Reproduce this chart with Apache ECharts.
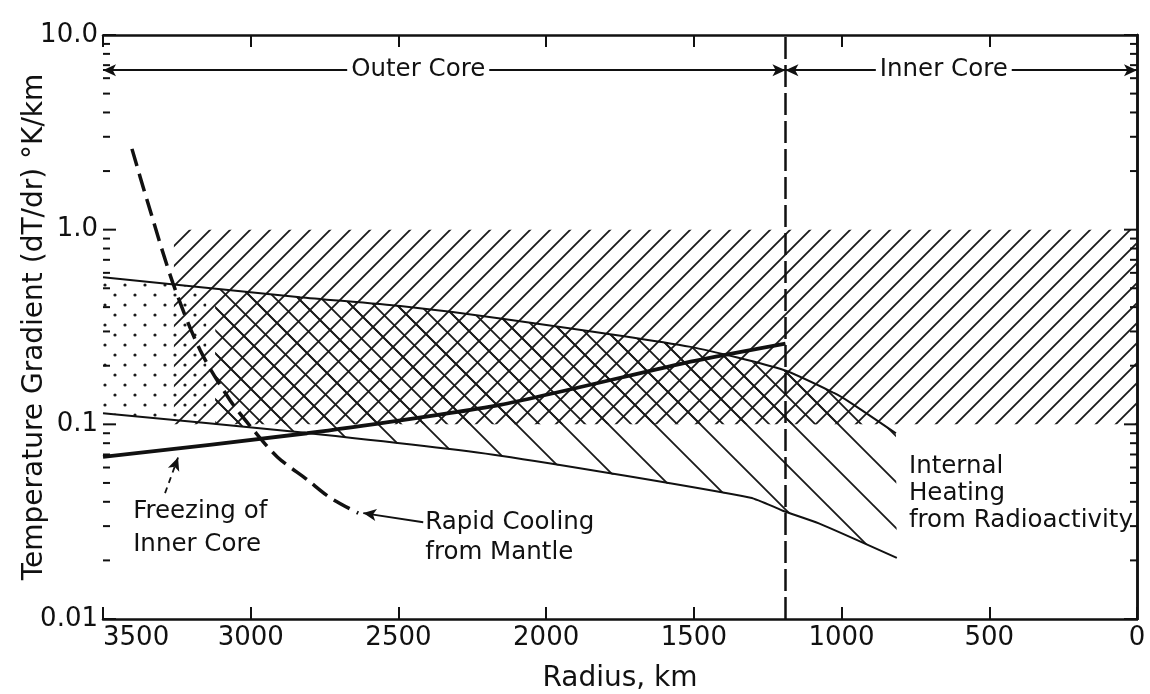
<!DOCTYPE html>
<html lang="en">
<head>
<meta charset="UTF-8">
<title>Core temperature gradient</title>
<script src="https://cdn.jsdelivr.net/npm/echarts@6/dist/echarts.min.js"></script>
<style>
    html, body { margin: 0; padding: 0; background: #fff; }
    #chart { width: 1150px; height: 694px; }
</style>
</head>
<body>
<div id="chart"></div>
<script>
// values: radius (km) / gradient (°K/km)
var upperKm  = [3500, 2833, 2494, 2155, 1511, 1196, 1026, 969, 816];
var upperVal = [0.57, 0.45, 0.405, 0.35, 0.25, 0.19, 0.145, 0.129, 0.090];
var lowerKm  = [3500, 2833, 2155, 1308, 1199, 1077, 813];
var lowerVal = [0.114, 0.091, 0.069, 0.042, 0.036, 0.031, 0.0206];
// freezing of inner core (thick solid)
var freezeKm  = [3500, 2809, 2155, 1511, 1190];
var freezeVal = [0.068, 0.090, 0.126, 0.21, 0.26];
// rapid cooling from mantle (thick dashed)
var coolKm  = [3402, 3351, 3263, 3171, 3070, 2992, 2910, 2809, 2731, 2636];
var coolVal = [2.6, 1.42, 0.53, 0.24, 0.133, 0.094, 0.068, 0.052, 0.042, 0.035];

var innerCoreKm = 1190;
var bandKm  = [3260, 0];     // hatched band, left / right
var bandVal = [1.0, 0.1];    // hatched band, top / bottom
var hatchStartKm = 3120;     // where the \\\ hatching begins
var dotEndKm = 3150;         // where the dotted part ends
var coreArrowVal = 6.6;

var yTickVals   = [0.01, 0.1, 1, 10];
var yTickLabels = ['0.01', '0.1', '1.0', '10.0'];
var yMinorVals  = [0.02, 0.03, 0.04, 0.05, 0.06, 0.07, 0.08, 0.09,
                   0.2, 0.3, 0.4, 0.5, 0.6, 0.7, 0.8, 0.9,
                   2, 3, 4, 5, 6, 7, 8, 9];

var FONT = 'DejaVu Sans';
var INK = '#111';

function pairs(a, b) {
    return a.map(function (x, i) { return [x, b[i]]; });
}

// hatch tiles
function hatch(pitch, dir, width) {
    var c = document.createElement('canvas');
    c.width = c.height = pitch;
    var g = c.getContext('2d');
    g.strokeStyle = '#1a1a1a';
    g.lineWidth = width;
    g.beginPath();
    if (dir === '/') {
        g.moveTo(-2, pitch + 2); g.lineTo(pitch + 2, -2);
        g.moveTo(-2, 2); g.lineTo(2, -2);
        g.moveTo(pitch - 2, pitch + 2); g.lineTo(pitch + 2, pitch - 2);
    } else {
        g.moveTo(-2, -2); g.lineTo(pitch + 2, pitch + 2);
        g.moveTo(pitch - 2, -2); g.lineTo(pitch + 2, 2);
        g.moveTo(-2, pitch - 2); g.lineTo(2, pitch + 2);
    }
    g.stroke();
    return { image: c, repeat: 'repeat' };
}
function dots(pitch, r) {
    var c = document.createElement('canvas');
    c.width = c.height = pitch;
    var g = c.getContext('2d');
    g.fillStyle = '#1a1a1a';
    [[pitch / 4, pitch / 4], [pitch * 3 / 4, pitch * 3 / 4]].forEach(function (p) {
        g.beginPath(); g.arc(p[0], p[1], r, 0, Math.PI * 2); g.fill();
    });
    return { image: c, repeat: 'repeat' };
}
var fwdHatch = hatch(20, '/', 1.8);
var backDense = hatch(23, '\\', 1.8);
var backSparse = hatch(46, '\\', 1.8);
var dotFill = dots(20, 1.6);

// clip polygon against a half plane x or y (pixel space)
function clip(pts, axis, limit, keepLess) {
    var out = [];
    for (var i = 0; i < pts.length; i++) {
        var a = pts[i], b = pts[(i + 1) % pts.length];
        var ina = keepLess ? a[axis] <= limit : a[axis] >= limit;
        var inb = keepLess ? b[axis] <= limit : b[axis] >= limit;
        if (ina) out.push(a);
        if (ina !== inb) {
            var t = (limit - a[axis]) / (b[axis] - a[axis]);
            out.push([a[0] + t * (b[0] - a[0]), a[1] + t * (b[1] - a[1])]);
        }
    }
    return out;
}

function renderRegions(params, api) {
    var up = upperKm.map(function (k, i) { return api.coord([k, upperVal[i]]); });
    var lo = lowerKm.map(function (k, i) { return api.coord([k, lowerVal[i]]); }).reverse();
    var region = up.concat(lo);
    var hatchPoly = clip(region, 0, api.coord([hatchStartKm, 1])[0], false);
    var densePoly = clip(hatchPoly, 1, api.coord([0, bandVal[1]])[1], true);
    var dotPoly = clip(region, 0, api.coord([dotEndKm, 1])[0], true);
    var b0 = api.coord([bandKm[0], bandVal[0]]);
    var b1 = api.coord([bandKm[1], bandVal[1]]);
    return {
        type: 'group',
        children: [
            { type: 'polygon', shape: { points: dotPoly }, style: { fill: dotFill } },
            { type: 'polygon', shape: { points: hatchPoly }, style: { fill: backSparse } },
            { type: 'polygon', shape: { points: densePoly }, style: { fill: backDense } },
            { type: 'rect', shape: { x: b0[0], y: b0[1], width: b1[0] - b0[0], height: b1[1] - b0[1] },
              style: { fill: fwdHatch } }
        ]
    };
}

// log ticks on both vertical frame lines, pointing inward
function renderLogTicks(params, api) {
    var kids = [];
    function tick(v, len) {
        var l = api.coord([3500, v]), r = api.coord([0, v]);
        kids.push({ type: 'line', shape: { x1: l[0], y1: l[1], x2: l[0] + len, y2: l[1] },
                    style: { stroke: INK, lineWidth: 2 } });
        kids.push({ type: 'line', shape: { x1: r[0], y1: r[1], x2: r[0] - len, y2: r[1] },
                    style: { stroke: INK, lineWidth: 2 } });
    }
    yMinorVals.forEach(function (v) { tick(v, 7); });
    yTickVals.forEach(function (v) { tick(v, 13); });
    return { type: 'group', children: kids };
}

// text notes, anchored in data coordinates
var notes = [
    { at: [3398, 0.0292], text: 'Freezing of\nInner Core', align: 'left', lh: 33 },
    { at: [2409, 0.0262], text: 'Rapid Cooling\nfrom Mantle', align: 'left', lh: 30 },
    { at: [772, 0.0439], text: 'Internal\nHeating\nfrom Radioactivity', align: 'left', lh: 27 },
    { at: [2433, coreArrowVal], text: 'Outer Core', align: 'center', lh: 26, bg: true },
    { at: [654, coreArrowVal], text: 'Inner Core', align: 'center', lh: 26, bg: true }
];

function renderNotes(params, api) {
    return {
        type: 'group',
        children: notes.map(function (n) {
            var p = api.coord(n.at);
            return {
                type: 'text', x: p[0], y: p[1],
                style: {
                    text: n.text, fill: INK, font: '24.5px "' + FONT + '"',
                    align: n.align, verticalAlign: 'middle', lineHeight: n.lh,
                    backgroundColor: n.bg ? '#fff' : null, padding: n.bg ? [0, 4] : 0
                }
            };
        })
    };
}

var chart = echarts.init(document.getElementById('chart'));
chart.setOption({
    animation: false,
    backgroundColor: '#fff',
    textStyle: { fontFamily: FONT, color: INK },
    grid: { left: 103, right: 13, top: 35, bottom: 75, containLabel: false, outerBoundsMode: 'none' },
    xAxis: [{
        type: 'value', min: 0, max: 3500, interval: 500, inverse: true,
        name: 'Radius, km', nameLocation: 'middle', nameGap: 46,
        nameTextStyle: { fontSize: 28, color: INK, fontFamily: FONT },
        axisLine: { lineStyle: { color: INK, width: 2.5 } },
        axisTick: { inside: true, length: 12, lineStyle: { color: INK, width: 2 } },
        axisLabel: {
            fontSize: 26, color: INK, fontFamily: FONT, margin: 6, alignMaxLabel: 'left',
            formatter: function (v) { return String(v); }
        },
        splitLine: { show: false }
    }, {
        type: 'value', position: 'top', min: 0, max: 3500, interval: 500, inverse: true,
        axisLine: { lineStyle: { color: INK, width: 2.5 } },
        axisTick: { inside: true, length: 12, lineStyle: { color: INK, width: 2 } },
        axisLabel: { show: false },
        splitLine: { show: false }
    }],
    yAxis: [{
        type: 'log', logBase: 10, min: 0.01, max: 10,
        name: 'Temperature Gradient (dT/dr) °K/km', nameLocation: 'middle', nameGap: 54,
        nameMoveOverlap: false,
        nameTextStyle: { fontSize: 28, color: INK, fontFamily: FONT },
        axisLine: { lineStyle: { color: INK, width: 2.5 } },
        axisTick: { show: false },
        axisLabel: {
            fontSize: 26, color: INK, fontFamily: FONT, margin: 5,
            formatter: function (v) {
                for (var i = 0; i < yTickVals.length; i++) {
                    if (Math.abs(Math.log10(v) - Math.log10(yTickVals[i])) < 1e-6) return yTickLabels[i];
                }
                return '';
            }
        },
        splitLine: { show: false }
    }, {
        type: 'log', logBase: 10, min: 0.01, max: 10, position: 'right',
        axisLine: { lineStyle: { color: INK, width: 2.5 } },
        axisTick: { show: false },
        axisLabel: { show: false },
        splitLine: { show: false }
    }],
    series: [{
        type: 'custom', name: 'regions', z: 1, silent: true,
        data: [[1000, 1]], renderItem: renderRegions
    }, {
        type: 'custom', name: 'log ticks', z: 4, silent: true,
        data: [[1000, 1]], renderItem: renderLogTicks
    }, {
        type: 'line', name: 'upper', z: 3, data: pairs(upperKm, upperVal),
        showSymbol: false, smooth: 0.2,
        lineStyle: { color: INK, width: 2 },
        markLine: {
            silent: true, symbol: ['none', 'arrow'], symbolSize: [9, 13],
            label: { show: false },
            lineStyle: { color: INK, width: 1.8, type: 'solid' },
            data: [
                [{ coord: [2416, 0.0314] }, { coord: [2619, 0.035] }],
                [{ coord: [3290, 0.0443], lineStyle: { type: [6, 5] } }, { coord: [3246, 0.0675] }]
            ]
        }
    }, {
        type: 'line', name: 'lower', z: 3, data: pairs(lowerKm, lowerVal),
        showSymbol: false, smooth: 0.2,
        lineStyle: { color: INK, width: 2 }
    }, {
        type: 'line', name: 'freezing', z: 3, data: pairs(freezeKm, freezeVal),
        showSymbol: false, smooth: 0.2,
        lineStyle: { color: INK, width: 3.8 },
        markLine: {
            silent: true, symbol: ['arrow', 'arrow'], symbolSize: [9, 13],
            label: { show: false },
            lineStyle: { color: INK, width: 2, type: 'solid' },
            data: [
                [{ coord: [3500, coreArrowVal] }, { coord: [innerCoreKm, coreArrowVal] }],
                [{ coord: [innerCoreKm, coreArrowVal] }, { coord: [0, coreArrowVal] }]
            ]
        }
    }, {
        type: 'line', name: 'cooling', z: 3, data: pairs(coolKm, coolVal),
        showSymbol: false, smooth: 0.3,
        lineStyle: { color: INK, width: 3.5, type: [18, 8] },
        markLine: {
            silent: true, symbol: 'none', label: { show: false },
            lineStyle: { color: INK, width: 2.5, type: [22, 6] },
            data: [{ xAxis: innerCoreKm }]
        }
    }, {
        type: 'custom', name: 'notes', z: 6, silent: true,
        data: [[1000, 1]], renderItem: renderNotes
    }]
});
</script>
</body>
</html>
